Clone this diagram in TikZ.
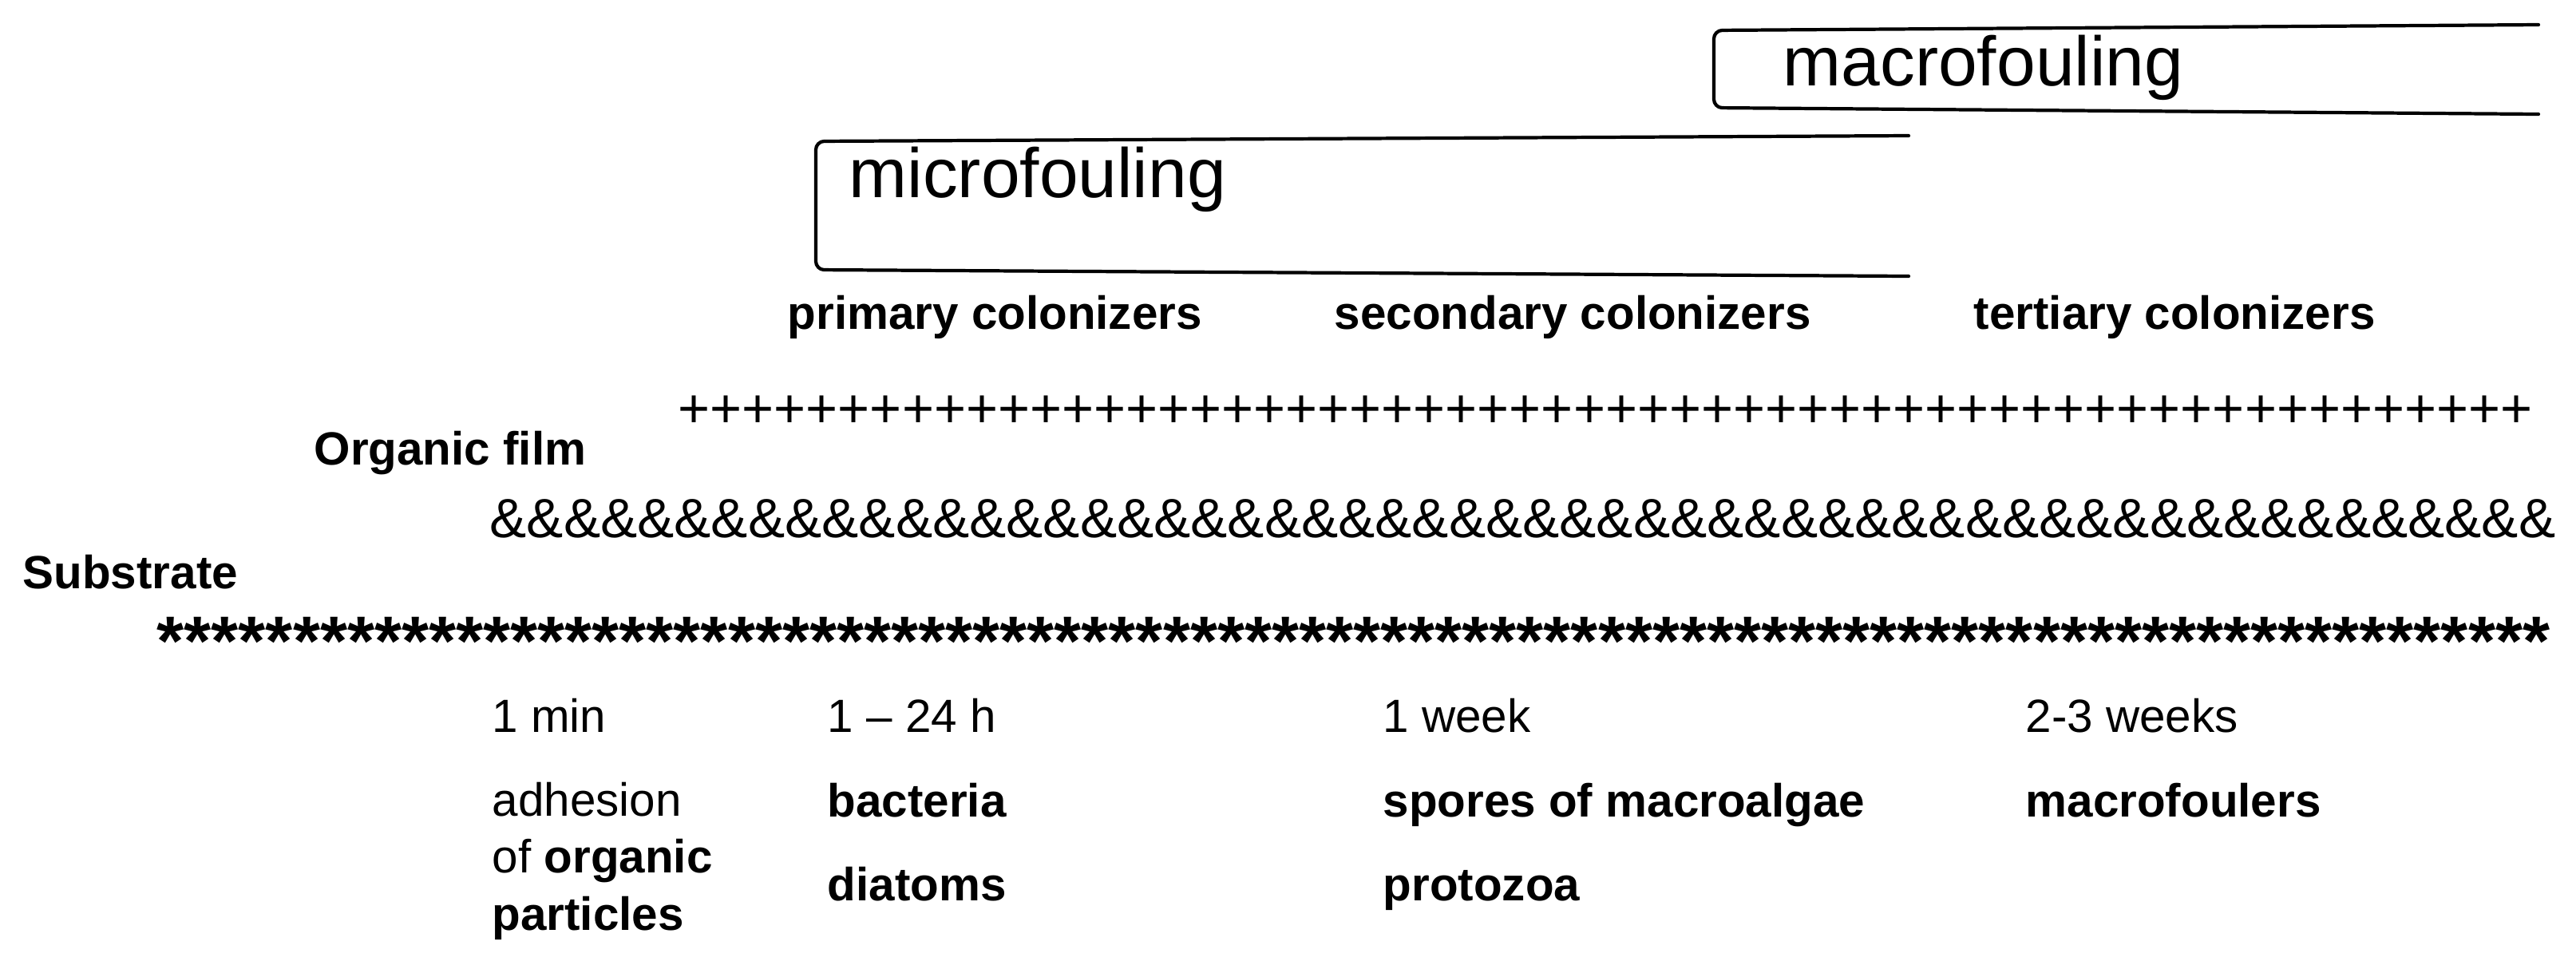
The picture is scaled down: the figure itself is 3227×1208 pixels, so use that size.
\documentclass[tikz,border=0pt]{standalone}
\usepackage{fontspec}
\setmainfont{Liberation Sans}
\usetikzlibrary{positioning}
\newcommand{\layerrow}[2]{\foreach \i in {1,...,#1}{#2}}
\tikzset{
  lbl/.style={anchor=base west, inner sep=0pt, align=left,
    font=\fontsize{16.6}{20.2}\selectfont},
  lblb/.style={lbl, font=\fontsize{16.6}{20.2}\selectfont\bfseries},
  foul/.style={anchor=base west, inner sep=0pt, font=\fontsize{24.9}{30}\selectfont},
  brk/.style={line width=1.2pt, rounded corners=3pt, line cap=round},
  layer/.style={anchor=base west, inner sep=0pt},
}

\begin{document}
\begin{tikzpicture}[x=0.01cm, y=-0.01cm]
    \useasboundingbox (0,0) rectangle (3227,1208);
    % fouling brackets
    \coordinate (ma1) at (3180,31);
    \coordinate (ma2) at (3180,143);
    \draw[brk] (ma1) -- (2147,38) -- (2147,135) -- (ma2);
    \node[foul] (macro) at (2233,107) {macrofouling};
    \coordinate (mi1) at (2391,170);
    \coordinate (mi2) at (2391,346);
    \draw[brk] (mi1) -- (1022,177) -- (1022,338) -- (mi2);
    \node[foul] (micro) at (1063,247) {microfouling};
    % colonizers
    \node[lblb] (prim) at (986,412) {primary colonizers};
    \node[lblb] (sec) at (1671,412) {secondary colonizers};
    \node[lblb] (tert) at (2472,412) {tertiary colonizers};
    % layers
    \node[layer, font=\fontsize{19.5}{24}\selectfont] (plus) at (849,535) {\layerrow{58}{+}};
    \node[lblb] (film) at (393,582) {Organic film};
    \node[layer, font=\fontsize{19.7}{24}\selectfont] (amp) at (613,673) {\layerrow{56}{\&}};
    \node[lblb] (sub) at (28,737) {Substrate};
    \node[layer, font=\fontsize{24.9}{30}\selectfont\bfseries] (star) at (196,833) {\layerrow{88}{*}};
    % times
    \node[lbl] (t1) at (616,917) {1 min};
    \node[lbl] (t2) at (1036,917) {1 -- 24 h};
    \node[lbl] (t3) at (1732,917) {1 week};
    \node[lbl] (t4) at (2537,917) {2-3 weeks};
    % organisms (base of the last line)
    \node[lbl] (adh) at (616,1165) {adhesion\\of \textbf{organic}\\\textbf{particles}};
    \node[lblb] (bact) at (1036,1023) {bacteria};
    \node[lblb] (diat) at (1036,1128) {diatoms};
    \node[lblb] (spor) at (1732,1023) {spores of macroalgae};
    \node[lblb] (prot) at (1732,1128) {protozoa};
    \node[lblb] (mfoul) at (2537,1023) {macrofoulers};
\end{tikzpicture}
\end{document}
